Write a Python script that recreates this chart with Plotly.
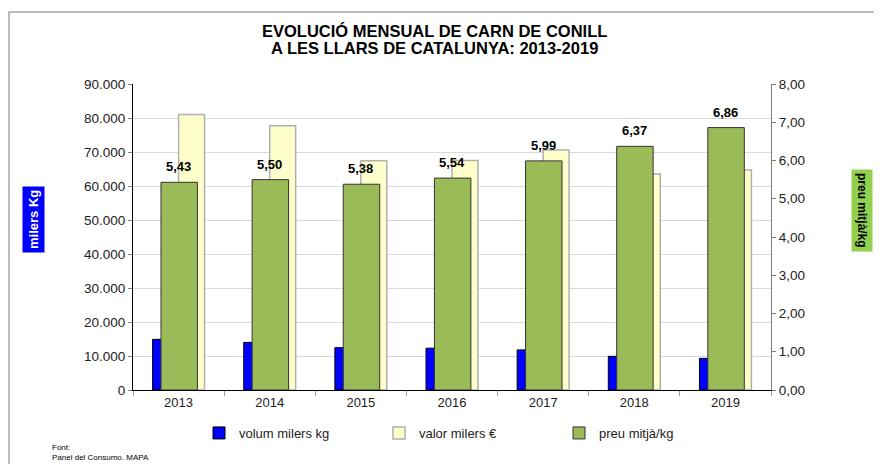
import plotly.graph_objects as go

years = ["2013", "2014", "2015", "2016", "2017", "2018", "2019"]
volum = [14900, 14000, 12450, 12300, 11800, 9900, 9300]
valor = [81000, 77700, 67400, 67500, 70600, 63500, 64700]
preu = [5.43, 5.50, 5.38, 5.54, 5.99, 6.37, 6.86]
title_lines = ["EVOLUCIÓ MENSUAL DE CARN DE CONILL", "A LES LLARS DE CATALUNYA: 2013-2019"]

# page is rendered with an 8px body margin; figure is sized so it fills the window
OFF = 8
W, H = 882 - OFF, 464 - OFF
# plot area in page pixels
L, R, T, B = 133, 771, 84, 390


def fx(px):
    return (px - L) / (R - L)


def fy(py):
    return (B - py) / (B - T)


FONT = "Arial, Liberation Sans, sans-serif"

fig = go.Figure()
fig.add_bar(x=years, y=volum, name="volum milers kg",
            marker=dict(color="#0000ff", line=dict(color="#000000", width=1)),
            offset=-0.285, width=0.285)
fig.add_bar(x=years, y=valor, name="valor milers €",
            marker=dict(color="#ffffcc", line=dict(color="#b0b0b0", width=1.5)),
            offset=0.0, width=0.285)
fig.add_bar(x=years, y=preu, name="preu mitjà/kg", yaxis="y2",
            marker=dict(color="#9bbb59", line=dict(color="#333333", width=1)),
            offset=-0.193, width=0.40)

annotations = []
for i, v in enumerate(preu):
    annotations.append(dict(x=i, y=v, xref="x", yref="y2",
                            text="<b>%s</b>" % f"{v:.2f}".replace(".", ","),
                            showarrow=False, xanchor="center", yanchor="bottom", yshift=6,
                            font=dict(size=13, color="#000000", family=FONT)))

for i, line in enumerate(title_lines):
    annotations.append(dict(text="<b>%s</b>" % line, xref="paper", yref="paper",
                            x=fx(434), y=fy(31 + 17 * i), xanchor="center", yanchor="middle",
                            showarrow=False, font=dict(size=16.5, color="#000000", family=FONT)))

annotations += [
    dict(text="<b>milers Kg</b>", textangle=-90, xref="paper", yref="paper",
         x=fx(33), y=fy(219), xanchor="center", yanchor="middle", showarrow=False,
         font=dict(size=13, color="#ffffff", family=FONT), bgcolor="#0000ff", borderpad=3),
    dict(text="<b>preu mitjà/kg</b>", textangle=90, xref="paper", yref="paper",
         x=fx(862), y=fy(210), xanchor="center", yanchor="middle", showarrow=False,
         font=dict(size=12, color="#000000", family=FONT), bgcolor="#92d050", borderpad=3),
    dict(text="Font:<br>Panel del Consumo. MAPA", xref="paper", yref="paper",
         x=fx(50), y=fy(452), xanchor="left", yanchor="middle", align="left", showarrow=False,
         font=dict(size=8, color="#000000", family=FONT)),
]

fig.update_layout(
    width=W, height=H,
    margin=dict(l=L - OFF, r=W - (R - OFF), t=T - OFF, b=H - (B - OFF), autoexpand=False),
    paper_bgcolor="white", plot_bgcolor="white",
    separators=",.",
    barmode="overlay",
    font=dict(family=FONT, size=13, color="#222222"),
    xaxis=dict(type="category", range=[-0.5, len(years) - 0.5],
               showline=True, linecolor="#000000", linewidth=1,
               ticks="outside", tickson="boundaries", ticklen=5, tickcolor="#a0a0a0",
               tickfont=dict(size=13, color="#222222"), showgrid=False),
    yaxis=dict(range=[0, 90000], dtick=10000, tickformat=",d",
               showgrid=True, gridcolor="#d9d9d9", gridwidth=1,
               showline=True, linecolor="#000000", linewidth=1,
               ticks="outside", ticklen=4, tickcolor="#808080",
               tickfont=dict(size=13.5, color="#222222"), zeroline=False),
    yaxis2=dict(range=[0, 8], dtick=1, tickformat=".2f", overlaying="y", side="right",
                showgrid=False, showline=True, linecolor="#808080", linewidth=1,
                ticks="outside", ticklen=4, tickcolor="#808080",
                tickfont=dict(size=13.5, color="#222222"), zeroline=False),
    legend=dict(orientation="h", xref="container", yref="container",
                x=(239 - 40 - OFF) / W, y=1 - (433 - OFF) / H, xanchor="left", yanchor="middle",
                entrywidth=135, entrywidthmode="pixels",
                font=dict(size=13, color="#222222"), bgcolor="rgba(0,0,0,0)"),
    shapes=[dict(type="rect", xref="paper", yref="paper",
                 x0=fx(OFF + 1), x1=fx(900), y0=fy(480), y1=fy(12),
                 line=dict(color="#a6a6a6", width=1.5), fillcolor="rgba(0,0,0,0)", layer="below")],
    annotations=annotations,
)

fig.write_html("out.html")
